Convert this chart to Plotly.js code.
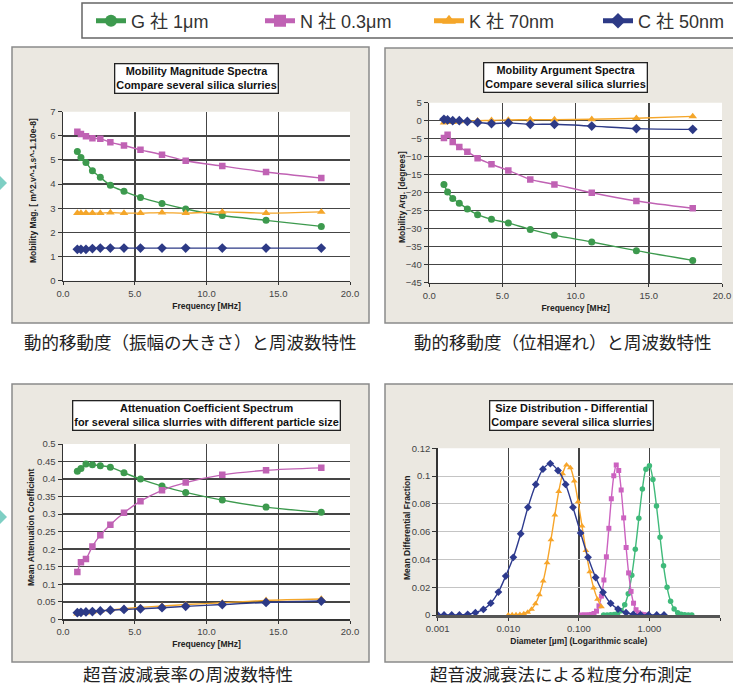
<!DOCTYPE html>
<html><head><meta charset="utf-8">
<script src="https://cdn.plot.ly/plotly-3.0.1.min.js"></script>
<style>html,body{margin:0;padding:0;background:#fff;overflow:hidden}#chart{width:733px;height:686px}</style>
</head><body><div id="chart"></div>
<script>
// ---- data ----
const seriesNames = ['G 社 1μm', 'N 社 0.3μm', 'K 社 70nm', 'C 社 50nm'];
const freq = [1.0, 1.25, 1.6, 2.05, 2.6, 3.3, 4.25, 5.4, 6.9, 8.55, 11.1, 14.15, 18.0];

const magG = [5.35, 5.1, 4.9, 4.55, 4.28, 3.95, 3.7, 3.45, 3.2, 2.97, 2.7, 2.5, 2.25];
const magN = [6.17, 6.08, 5.98, 5.9, 5.88, 5.73, 5.6, 5.42, 5.22, 4.97, 4.75, 4.5, 4.25];
const magK = [2.8, 2.8, 2.8, 2.8, 2.8, 2.82, 2.8, 2.8, 2.82, 2.8, 2.85, 2.8, 2.85];
const magC = [1.3, 1.3, 1.3, 1.33, 1.35, 1.35, 1.35, 1.35, 1.35, 1.35, 1.35, 1.35, 1.35];

const argG = [-17.7, -19.8, -21.6, -22.9, -24.5, -26.1, -27.4, -28.4, -30.2, -31.8, -33.7, -36.1, -38.8];
const argN = [-4.8, -3.9, -5.9, -7.3, -8.6, -10.4, -12.1, -13.8, -16.3, -17.7, -20.0, -22.3, -24.3];
const argK = [-0.5, -0.3, -0.4, -0.2, -0.1, 0.0, 0.1, 0.2, 0.3, 0.3, 0.4, 0.7, 1.2];
const argC = [0.4, 0.2, 0.0, 0.0, -0.2, -0.5, -0.8, -0.6, -1.0, -1.0, -1.5, -2.2, -2.4];

const attG = [0.422, 0.430, 0.443, 0.441, 0.438, 0.434, 0.418, 0.400, 0.380, 0.362, 0.340, 0.320, 0.305];
const attN = [0.135, 0.163, 0.172, 0.208, 0.240, 0.270, 0.304, 0.337, 0.368, 0.390, 0.412, 0.425, 0.432];
const attK = [0.016, 0.018, 0.019, 0.021, 0.024, 0.027, 0.030, 0.034, 0.038, 0.042, 0.047, 0.054, 0.058];
const attC = [0.019, 0.020, 0.021, 0.022, 0.024, 0.026, 0.028, 0.030, 0.033, 0.037, 0.042, 0.048, 0.052];

const sizeC_x = [0.00100, 0.00123, 0.00158, 0.00203, 0.00266, 0.00342, 0.00444, 0.00564, 0.00724, 0.00919, 0.0118, 0.0150, 0.0190, 0.0245, 0.0310, 0.0394, 0.0507, 0.0650, 0.0826, 0.106, 0.135, 0.173, 0.220, 0.282, 0.359, 0.466, 0.591, 0.751, 0.975, 1.27, 1.61];
const sizeC_y = [0, 0, 0, 0, 0.0005, 0.0017, 0.004, 0.0085, 0.0165, 0.028, 0.0415, 0.0585, 0.0775, 0.094, 0.105, 0.109, 0.104, 0.094, 0.0775, 0.059, 0.0415, 0.027, 0.0163, 0.0084, 0.0043, 0.0017, 0.0005, 0, 0, 0, 0];

const sizeK_x = [0.0100, 0.01135, 0.01288, 0.01462, 0.0166, 0.01884, 0.02138, 0.02427, 0.02754, 0.03126, 0.03548, 0.04027, 0.04571, 0.05188, 0.05888, 0.06683, 0.07586, 0.0861, 0.09772, 0.1109, 0.1259, 0.1429, 0.1622, 0.1841, 0.2089];
const sizeK_y = [0, 0.0001, 0.0002, 0.0004, 0.0009, 0.002, 0.0042, 0.0081, 0.0146, 0.0244, 0.0377, 0.0542, 0.072, 0.0889, 0.1016, 0.108, 0.106, 0.0965, 0.0815, 0.064, 0.0464, 0.0312, 0.0195, 0.0113, 0.006];

const sizeN_x = [0.1096, 0.1189, 0.1288, 0.1396, 0.1514, 0.1641, 0.1778, 0.1928, 0.2089, 0.2265, 0.2455, 0.2661, 0.2884, 0.3126, 0.3388, 0.3673, 0.3981, 0.4315, 0.4677, 0.5070, 0.5495, 0.5957, 0.6457, 0.6998, 0.7586, 0.8222, 0.8913];
const sizeN_y = [0, 0, 0, 0.0001, 0.0004, 0.0011, 0.0028, 0.0066, 0.0136, 0.0252, 0.0419, 0.0624, 0.0836, 0.1002, 0.108, 0.104, 0.090, 0.0699, 0.0486, 0.0303, 0.017, 0.0085, 0.0038, 0.0016, 0.0006, 0.0002, 0];

const sizeG_x = [0.2239, 0.2512, 0.2818, 0.3162, 0.3548, 0.3981, 0.4467, 0.5012, 0.5623, 0.6310, 0.7079, 0.7943, 0.8913, 1.000, 1.122, 1.259, 1.413, 1.585, 1.778, 1.995, 2.239, 2.512, 2.818, 3.162, 3.548, 3.981];
const sizeG_y = [0, 0, 0.0001, 0.0004, 0.0011, 0.003, 0.0073, 0.0153, 0.0286, 0.0473, 0.0696, 0.0907, 0.1049, 0.1075, 0.0975, 0.0785, 0.056, 0.0354, 0.0199, 0.0099, 0.0044, 0.0017, 0.0006, 0.0002, 0, 0];

const xTickVals4 = [0.001, 0.01, 0.1, 1, 10];
const xTickText4 = ['0.001', '0.010', '0.100', '1.000', '10.000'];

const panelTitles = [
  '<b>Mobility Magnitude Spectra</b><br><b>Compare several silica slurries</b>',
  '<b>Mobility Argument Spectra</b><br><b>Compare several silica slurries</b>',
  '<b>Attenuation Coefficient Spectrum</b><br><b>for several silica slurries with different particle size</b>',
  '<b>Size Distribution - Differential</b><br><b>Compare several silica slurries</b>'
];
const captions = ['動的移動度（振幅の大きさ）と周波数特性', '動的移動度（位相遅れ）と周波数特性', '超音波減衰率の周波数特性', '超音波減衰法による粒度分布測定'];
const yTitles = ['Mobility Mag. [ m^2.v^-1.s^-1.10e-8]', 'Mobility Arg. [degrees]', 'Mean Attenuation Coefficient', 'Mean Differential Fraction'];
const xTitles = ['Frequency [MHz]', 'Frequency [MHz]', 'Frequency [MHz]', 'Diameter [µm] (Logarithmic scale)'];

// ---- styling ----
const colors = ['#3d9a4e', '#c062b4', '#f4a62a', '#2d3a86'];
const colors4 = ['#3fba7a', '#cc62c0', '#f7a52a', '#2d3a8e'];
const symbols = ['circle', 'square', 'triangle-up', 'diamond'];
const msizes = [7, 6.5, 7.5, 7.5];
const W = 733, H = 686;
const X = p => p / W, Y = p => 1 - p / H;
const FONT = 'Liberation Sans, Arial, sans-serif';
const CJK = 'Noto Sans CJK JP, sans-serif';

const traces = [];
function addPanel(xs, ysList, ax, cols, isFirst) {
  ysList.forEach((ys, i) => {
    const xv = Array.isArray(xs[0]) ? xs[i] : xs;
    traces.push({
      x: xv, y: ys, type: 'scatter', mode: 'lines+markers',
      name: seriesNames[i], legendgroup: 'g' + i, showlegend: isFirst,
      xaxis: 'x' + ax, yaxis: 'y' + ax,
      line: {color: cols[i], width: 1.4, shape: 'spline', smoothing: 0.8},
      marker: {symbol: symbols[i], color: cols[i], size: ax === '4' ? msizes[i] - 1.5 : msizes[i]}
    });
  });
}
addPanel(freq, [magG, magN, magK, magC], '', colors, true);
addPanel(freq, [argG, argN, argK, argC], '2', colors, false);
addPanel(freq, [attG, attN, attK, attC], '3', colors, false);
addPanel([sizeG_x, sizeN_x, sizeK_x, sizeC_x], [sizeG_y, sizeN_y, sizeK_y, sizeC_y], '4', colors4, false);

const tickFont = {family: FONT, size: 9.5, color: '#444'};
const titleFont = {family: FONT, size: 8.5, color: '#222', weight: 'bold'};
function xa(dom, anchor, title, extra) {
  return Object.assign({
    domain: dom, anchor: anchor, range: [0, 20], dtick: 5, tick0: 0, tickformat: '.1f',
    showgrid: true, gridcolor: '#454545', gridwidth: 1.5, zeroline: false,
    showline: true, linecolor: '#333', linewidth: 1.5, ticks: 'outside', ticklen: 3, tickcolor: '#333',
    tickfont: tickFont, title: {text: title, font: titleFont, standoff: 5}, automargin: false, fixedrange: true
  }, extra || {});
}
function ya(dom, anchor, range, dtick, extra) {
  return Object.assign({
    domain: dom, anchor: anchor, range: range, dtick: dtick,
    showgrid: true, gridcolor: '#454545', gridwidth: 1.5, zeroline: false,
    showline: true, linecolor: '#333', linewidth: 1.5, ticks: 'outside', ticklen: 4, tickcolor: '#333',
    tickfont: tickFont, automargin: false, fixedrange: true
  }, extra || {});
}

const frames = [[12, 369, 47, 323], [385, 740, 48, 323], [12, 369, 384, 662], [385, 740, 384, 662]];
const shapes = [];
frames.forEach(f => shapes.push({type: 'rect', xref: 'paper', yref: 'paper', x0: X(f[0]), x1: X(f[1]), y0: Y(f[3]), y1: Y(f[2]),
  fillcolor: '#ebe8e1', line: {color: '#8a8a8a', width: 1.5}, layer: 'below'}));
['x', 'x2', 'x3', 'x4'].forEach((xr, i) => {
  const yr = ['y', 'y2', 'y3', 'y4'][i];
  shapes.push({type: 'rect', xref: xr + ' domain', yref: yr + ' domain', x0: 0, x1: 1, y0: 0, y1: 1,
    fillcolor: '#ffffff', line: {width: 0}, layer: 'below'});
});
// legend box
shapes.push({type: 'rect', xref: 'paper', yref: 'paper', x0: X(82), x1: X(745), y0: Y(38), y1: Y(3),
  fillcolor: '#ffffff', line: {color: '#666', width: 1.5}, layer: 'below'});
// teal arrows
shapes.push({type: 'path', xref: 'paper', yref: 'paper', path: `M 0 ${Y(176)} L ${X(7)} ${Y(183)} L 0 ${Y(190)} Z`, fillcolor: '#7ecfc4', line: {width: 0}});
shapes.push({type: 'path', xref: 'paper', yref: 'paper', path: `M 0 ${Y(510)} L ${X(7)} ${Y(517)} L 0 ${Y(524)} Z`, fillcolor: '#7ecfc4', line: {width: 0}});

const titlePos = [[196, 78.5], [565.5, 78], [206.5, 415], [571.5, 415.5]];
const capPos = [[190, 341], [563, 341], [188, 673], [561, 673]];
const yTitlePos = [[33, 191], [402, 197], [31, 528], [407, 528]];
const annotations = [];
titlePos.forEach((p, i) => annotations.push({xref: 'paper', yref: 'paper', x: X(p[0]), y: Y(p[1]), xanchor: 'center', yanchor: 'middle',
  text: panelTitles[i], showarrow: false, font: {family: FONT, size: 10.9, color: '#111'},
  bgcolor: '#ffffff', bordercolor: '#222', borderwidth: 1.3, borderpad: 1}));
capPos.forEach((p, i) => annotations.push({xref: 'paper', yref: 'paper', x: X(p[0]), y: Y(p[1]), xanchor: 'center', yanchor: 'middle',
  text: captions[i], showarrow: false, font: {family: CJK, size: 17.5, color: '#222'}}));
yTitlePos.forEach((p, i) => annotations.push({xref: 'paper', yref: 'paper', x: X(p[0]), y: Y(p[1]), xanchor: 'center', yanchor: 'middle',
  text: yTitles[i], textangle: -90, showarrow: false, font: titleFont}));

const layout = {
  width: W, height: H, margin: {l: 0, r: 0, t: 0, b: 0, autoexpand: false},
  paper_bgcolor: '#ffffff', plot_bgcolor: 'rgba(0,0,0,0)',
  font: {family: FONT},
  showlegend: true,
  legend: {orientation: 'h', x: X(91), xanchor: 'left', y: Y(21), yanchor: 'middle',
    font: {family: 'Liberation Sans, Noto Sans CJK JP, sans-serif', size: 18, color: '#333'},
    entrywidth: 124, entrywidthmode: 'pixels', bgcolor: 'rgba(0,0,0,0)', borderwidth: 0, itemsizing: 'constant'},
  xaxis: xa([X(63), X(350)], 'y', xTitles[0]),
  yaxis: ya([Y(280.7), Y(111.7)], 'x', [0, 7], 1),
  xaxis2: xa([X(429.3), X(722)], 'y2', xTitles[1]),
  yaxis2: ya([Y(282.7), Y(102.7)], 'x2', [-45, 5], 5),
  xaxis3: xa([X(63), X(350)], 'y3', xTitles[2]),
  yaxis3: ya([Y(619.3), Y(444)], 'x3', [0, 0.5], 0.05),
  xaxis4: xa([X(437.7), X(720)], 'y4', xTitles[3], {type: 'log', range: [-3, 1], tickvals: xTickVals4, ticktext: xTickText4, tickformat: '', dtick: null,
    linecolor: '#555', linewidth: 2.5}),
  yaxis4: ya([Y(615), Y(448.3)], 'x4', [0, 0.12], 0.02, {gridcolor: '#c4c4c4', gridwidth: 1}),
  shapes: shapes, annotations: annotations
};
Plotly.newPlot('chart', traces, layout, {displayModeBar: false, staticPlot: true});
</script>
</body></html>
